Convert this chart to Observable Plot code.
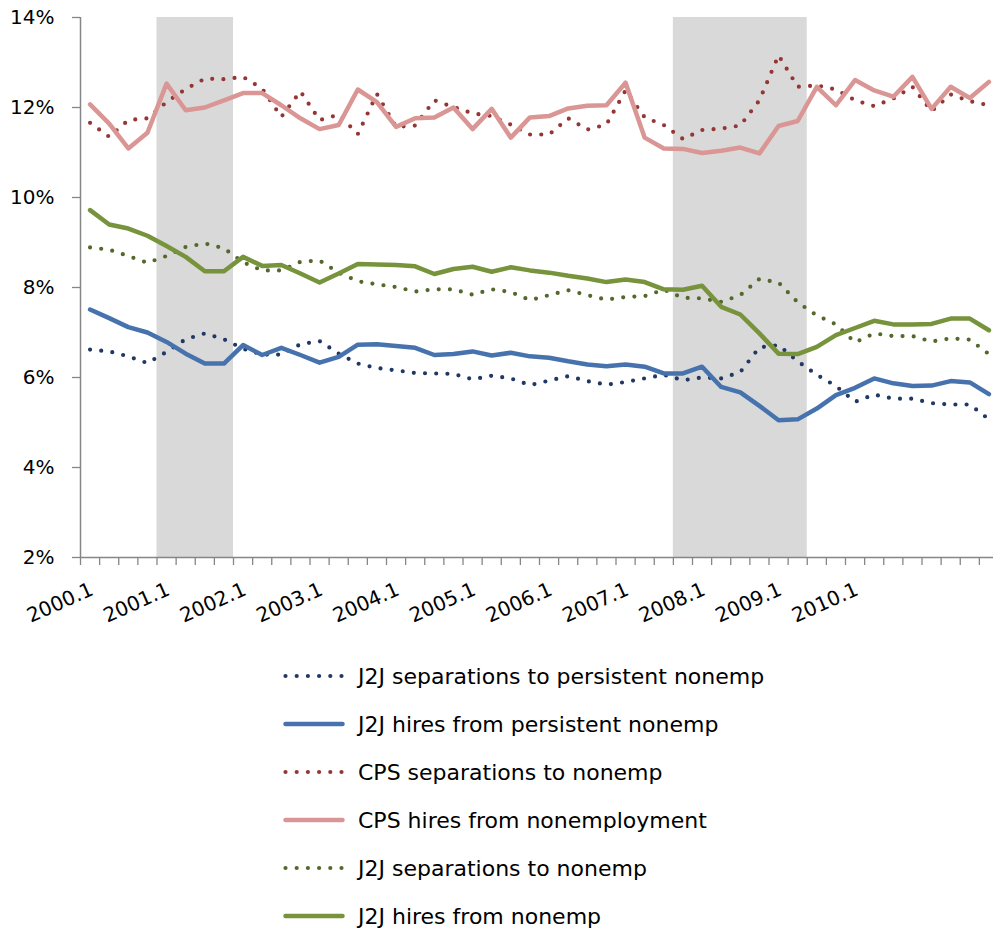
<!DOCTYPE html>
<html>
<head>
<meta charset="utf-8">
<script src="https://cdn.jsdelivr.net/npm/d3@7"></script>
<script src="https://cdn.jsdelivr.net/npm/@observablehq/plot@0.6"></script>
<style>
  html, body { margin: 0; padding: 0; background: #fff; overflow: hidden; }
  #wrap { position: relative; width: 993px; height: 934px; overflow: hidden; }
  #chart { position: absolute; left: 0; top: 0; width: 998px; }
  #chart svg { max-width: none !important; width: 998px; height: 640px; }
  #legend { position: absolute; left: 283px; top: 652px; font-family: "DejaVu Sans", sans-serif; font-size: 22px; color: #000; }
  .row { display: flex; align-items: center; height: 48px; }
  .row svg { margin-right: 13px; flex: none; }
</style>
</head>
<body>
<div id="wrap"><div id="chart"></div><div id="legend"></div></div>
<script>
const quarters = [
  "2000.1","2000.2","2000.3","2000.4","2001.1","2001.2","2001.3","2001.4",
  "2002.1","2002.2","2002.3","2002.4","2003.1","2003.2","2003.3","2003.4",
  "2004.1","2004.2","2004.3","2004.4","2005.1","2005.2","2005.3","2005.4",
  "2006.1","2006.2","2006.3","2006.4","2007.1","2007.2","2007.3","2007.4",
  "2008.1","2008.2","2008.3","2008.4","2009.1","2009.2","2009.3","2009.4",
  "2010.1","2010.2","2010.3","2010.4","2011.1","2011.2","2011.3","2011.4"
];
const tickLabels = ["2000.1","2001.1","2002.1","2003.1","2004.1","2005.1","2006.1","2007.1","2008.1","2009.1","2010.1"];
const yTicks = [2, 4, 6, 8, 10, 12, 14];
const recessionStarts = ["2001.1", "2007.4"];
const recessionEnds = ["2001.4", "2009.2"];

const seriesNames = [
  "J2J separations to persistent nonemp",
  "J2J hires from persistent nonemp",
  "CPS separations to nonemp",
  "CPS hires from nonemployment",
  "J2J separations to nonemp",
  "J2J hires from nonemp"
];
const seriesColors = ["#1f3864", "#4673ad", "#943634", "#da9694", "#53682b", "#77933c"];
const seriesDotted = [true, false, true, false, true, false];

const j2jSepsPers = [6.62,6.58,6.47,6.32,6.57,6.85,6.98,6.85,6.64,6.51,
  6.51,6.74,6.81,6.53,6.31,6.21,6.16,6.10,6.09,6.08,
  5.96,6.04,5.98,5.83,5.93,6.03,5.92,5.84,5.90,5.98,
  6.06,5.94,6.00,5.98,6.12,6.67,6.72,6.36,6.06,5.81,
  5.46,5.62,5.53,5.53,5.43,5.40,5.40,5.07];
const j2jHiresPers = [7.51,7.32,7.12,7.00,6.79,6.53,6.31,6.31,6.72,6.50,
  6.66,6.50,6.33,6.46,6.73,6.74,6.70,6.66,6.50,6.52,
  6.58,6.49,6.55,6.47,6.44,6.36,6.29,6.25,6.29,6.24,
  6.09,6.09,6.24,5.79,5.67,5.37,5.05,5.07,5.31,5.61,
  5.77,5.98,5.87,5.81,5.82,5.92,5.89,5.63];
const cpsSeps = [11.66,11.35,11.72,11.76,12.12,12.41,12.64,12.63,12.68,12.42,
  11.79,12.36,11.72,11.84,11.41,12.30,11.57,11.60,12.16,12.01,
  11.87,11.81,11.62,11.40,11.40,11.76,11.51,11.62,12.38,11.78,
  11.61,11.30,11.50,11.53,11.60,12.16,13.16,12.46,12.49,12.40,
  12.16,12.03,12.20,12.46,11.92,12.29,12.14,12.05];
const cpsHires = [12.07,11.64,11.09,11.44,12.53,11.94,12.00,12.16,12.32,12.32,
  12.05,11.76,11.52,11.61,12.40,12.12,11.57,11.76,11.78,12.00,
  11.52,11.97,11.33,11.78,11.81,11.98,12.04,12.05,12.55,11.33,
  11.09,11.08,10.99,11.04,11.11,10.98,11.59,11.70,12.46,12.05,
  12.61,12.38,12.24,12.68,11.97,12.46,12.21,12.57];
const j2jSepsNonemp = [8.89,8.84,8.70,8.55,8.70,8.90,8.98,8.87,8.56,8.38,
  8.38,8.57,8.60,8.33,8.14,8.07,8.01,7.91,7.96,7.96,
  7.84,7.96,7.90,7.72,7.83,7.94,7.83,7.73,7.79,7.81,
  7.95,7.77,7.76,7.68,7.83,8.19,8.11,7.67,7.38,7.18,
  6.78,6.98,6.92,6.92,6.80,6.87,6.84,6.52];
const j2jHiresNonemp = [9.72,9.40,9.31,9.15,8.92,8.68,8.36,8.36,8.68,8.48,
  8.50,8.31,8.11,8.31,8.52,8.51,8.50,8.47,8.30,8.41,
  8.46,8.35,8.45,8.38,8.33,8.26,8.20,8.12,8.18,8.12,
  7.96,7.95,8.04,7.57,7.40,6.98,6.53,6.52,6.68,6.94,
  7.10,7.26,7.18,7.18,7.19,7.31,7.31,7.05];

const seriesValues = [j2jSepsPers, j2jHiresPers, cpsSeps, cpsHires, j2jSepsNonemp, j2jHiresNonemp];

// long table built from the arrays
const rows = [];
seriesNames.forEach((name, s) => {
  seriesValues[s].forEach((v, i) => rows.push({series: name, s, q: quarters[i], idx: i, value: v}));
});
const recessions = recessionStarts.map((st, k) => ({start: st, end: recessionEnds[k]}));

const FONT = "DejaVu Sans, sans-serif";
const lineMarks = seriesNames.map((name, s) =>
  Plot.line(rows.filter(r => r.s === s), {
    x: r => r.idx + 0.5,
    y: "value",
    stroke: seriesColors[s],
    strokeWidth: seriesDotted[s] ? 4.2 : 4.5,
    strokeLinecap: "round",
    strokeLinejoin: "round",
    strokeDasharray: seriesDotted[s] ? "0 11.2" : null
  })
);

const chart = Plot.plot({
  width: 998,
  height: 640,
  marginLeft: 80,
  marginRight: 0,
  marginTop: 17,
  marginBottom: 83,
  x: {type: "linear", domain: [0, quarters.length], axis: null},
  y: {type: "linear", domain: [2, 14], axis: null},
  style: {fontFamily: FONT, fontSize: "20px", color: "#000", background: "#fff", overflow: "visible", maxWidth: "none"},
  marks: [
    Plot.rect(recessions, {
      x1: d => quarters.indexOf(d.start),
      x2: d => quarters.indexOf(d.end) + 1,
      y1: 2, y2: 14,
      fill: "#d9d9d9"
    }),
    Plot.axisX({ticks: d3.range(quarters.length + 1), tickSize: 8, tickFormat: () => "", label: null, stroke: "#868686", strokeWidth: 1.3, anchor: "bottom"}),
    Plot.axisY({ticks: yTicks, tickSize: 8, tickPadding: 18, tickFormat: d => d + "%", label: null, stroke: "#868686", strokeWidth: 1.3, fill: "#000", fontSize: 20, anchor: "left"}),
    Plot.ruleY([2], {stroke: "#868686", strokeWidth: 1.5}),
    Plot.ruleX([0], {y1: 2, y2: 14, stroke: "#868686", strokeWidth: 1.5}),
    Plot.text(tickLabels, {
      x: d => quarters.indexOf(d) + 0.5,
      y: 2,
      text: d => d,
      rotate: -24,
      textAnchor: "end",
      lineAnchor: "middle",
      dy: 31,
      dx: 2,
      fontSize: 20,
      fill: "#000"
    }),
    ...lineMarks
  ]
});
document.getElementById("chart").appendChild(chart);

// legend
const legend = document.getElementById("legend");
seriesNames.forEach((name, s) => {
  const row = document.createElement("div");
  row.className = "row";
  const dash = seriesDotted[s] ? 'stroke-dasharray="0 11.2"' : "";
  row.innerHTML = `<svg width="62" height="12"><line x1="2.5" y1="6" x2="59.5" y2="6" stroke="${seriesColors[s]}" stroke-width="${seriesDotted[s] ? 4.2 : 4.5}" stroke-linecap="round" ${dash}/></svg><span>${name}</span>`;
  legend.appendChild(row);
});
</script>
</body>
</html>
